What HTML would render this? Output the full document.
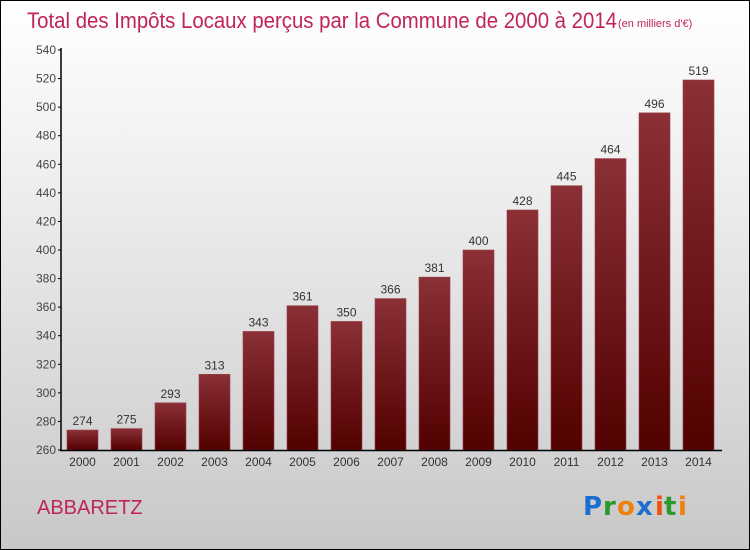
<!DOCTYPE html>
<html><head><meta charset="utf-8"><style>
body{margin:0}
#c{width:750px;height:550px;position:relative;box-sizing:border-box;border:1px solid #000;background:linear-gradient(#ffffff,#f0f0f0 30%,#c8c8c8);font-family:"Liberation Sans",sans-serif;overflow:hidden}
</style></head><body>
<div id="c">
<svg width="750" height="550" style="position:absolute;left:-1px;top:-1px">
<defs><linearGradient id="g" x1="0" y1="0" x2="0" y2="1"><stop offset="0" stop-color="#8a3036"/><stop offset="1" stop-color="#520000"/></linearGradient></defs>
<text x="27" y="28" font-size="22" fill="#c0245a" textLength="590" lengthAdjust="spacingAndGlyphs">Total des Impôts Locaux perçus par la Commune de 2000 à 2014</text>
<text x="618" y="27" font-size="11" fill="#c0245a">(en milliers d'€)</text>
<g id="plot"></g>
<text x="37" y="514" font-size="20" fill="#c0245a">ABBARETZ</text>
<g font-size="26" font-family="'DejaVu Sans',sans-serif" font-weight="bold">
<text x="583" y="515" fill="#1a6fd0">P</text><text x="603" y="515" fill="#2a9a2a">r</text><text x="617" y="515" fill="#f08010">o</text><text x="636" y="515" fill="#1a6fd0">x</text><text x="655" y="515" fill="#f05010">i</text><text x="664" y="515" fill="#2a9a2a">t</text><text x="678" y="515" fill="#f08010">i</text>
</g>
</svg>
</div>
<script>
const years=["2000","2001","2002","2003","2004","2005","2006","2007","2008","2009","2010","2011","2012","2013","2014"];
const values=[274,275,293,313,343,361,350,366,381,400,428,445,464,496,519];
const ticks=[260,280,300,320,340,360,380,400,420,440,460,480,500,520,540];
const ns="http://www.w3.org/2000/svg",p=document.getElementById('plot');
const y=v=>450-(v-260)*400/280, x=i=>82.5+i*44;
function mk(t,a,txt){const e=document.createElementNS(ns,t);for(const k in a)e.setAttribute(k,a[k]);if(txt!=null)e.textContent=txt;p.appendChild(e);return e;}
ticks.forEach(t=>{
 const l=mk('line',{x1:58,x2:61,y1:y(t),y2:y(t),stroke:'#000'});
 
 
 const tx=mk('text',{x:56,y:y(t)+4,'font-size':12,fill:'#444','text-anchor':'end'},t);
 
 
});
values.forEach((v,i)=>{
 const r=mk('rect',{x:x(i)-15.5,y:y(v),width:31,height:450-y(v),fill:'url(#g)',stroke:'#9a4048','stroke-width':0.6});
 
 
 const t=mk('text',{x:x(i),y:y(v)-5,'font-size':12,fill:'#333','text-anchor':'middle'},v);
 
 
 const yl=mk('text',{x:x(i),y:466,'font-size':12,fill:'#333','text-anchor':'middle'},years[i]);
 
 
});
const ya=mk('line',{x1:61,x2:61,y1:48,y2:451,stroke:'#000','stroke-width':1.5});


const xa=mk('line',{x1:60,x2:722,y1:450.5,y2:450.5,stroke:'#000','stroke-width':1.5});


</script>
</body></html>
